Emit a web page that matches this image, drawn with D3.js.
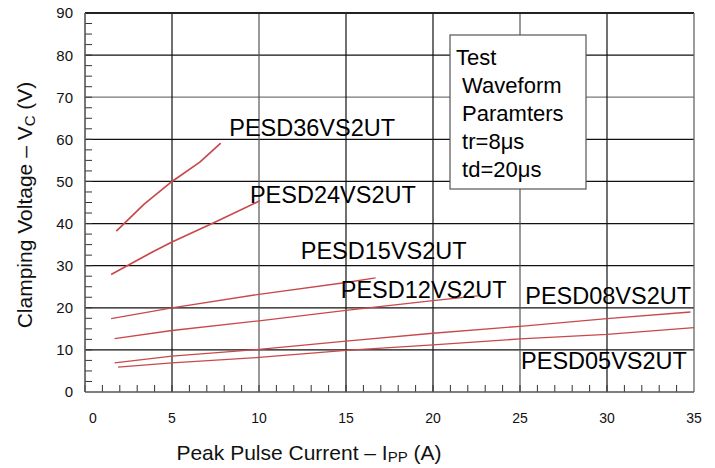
<!DOCTYPE html>
<html>
<head>
<meta charset="utf-8">
<script src="https://cdn.jsdelivr.net/npm/d3@7"></script>
<style>
  body { margin: 0; background: #fff; }
  svg { display: block; font-family: "Liberation Sans", Arial, sans-serif; }
</style>
</head>
<body>
<svg id="chart" width="715" height="468"></svg>
<script>
// clamping voltage vs peak pulse current
const currentTicks = [0, 5, 10, 15, 20, 25, 30, 35];
const voltageTicks = [0, 10, 20, 30, 40, 50, 60, 70, 80, 90];

const deviceNames = ["PESD36VS2UT", "PESD24VS2UT", "PESD15VS2UT",
                     "PESD12VS2UT", "PESD08VS2UT", "PESD05VS2UT"];

// [Ipp (A), Vc (V)]
const pesd36 = [[1.8, 38.2], [3.4, 44.6], [5, 50], [6.6, 54.6], [7.8, 59.1]];
const pesd24 = [[1.5, 27.9], [3.9, 33.3], [5, 35.6], [7.4, 40.2], [10.05, 45.4]];
const pesd15 = [[1.5, 17.4], [5, 20], [10, 23.2], [15, 26], [16.7, 27.1]];
const pesd12 = [[1.7, 12.7], [5, 14.6], [10, 16.9], [15, 19.4], [20, 21.7], [22.7, 22.9]];
const pesd08 = [[1.7, 6.9], [5, 8.5], [10, 10.1], [15, 12.1], [20, 13.95], [25, 15.6], [30, 17.4], [34.8, 19]];
const pesd05 = [[1.9, 5.9], [5, 6.9], [10, 8.2], [15, 9.9], [20, 11.2], [25, 12.6], [30, 13.7], [35, 15.3]];

const seriesValues = [pesd36, pesd24, pesd15, pesd12, pesd08, pesd05];

const legendLines = ["Test", " Waveform", " Paramters", " tr=8\u03bcs", " td=20\u03bcs"];

const svg = d3.select("#chart");
const W = 715, H = 468;
const margin = { top: 13, right: 21, bottom: 76, left: 85 };
const iw = W - margin.left - margin.right;
const ih = H - margin.top - margin.bottom;

const x = d3.scaleLinear().domain([0, 35]).range([0, iw]);
const y = d3.scaleLinear().domain([0, 90]).range([ih, 0]);

const g = svg.append("g").attr("transform", `translate(${margin.left},${margin.top})`);

// grid
g.append("g").selectAll("line")
  .data(voltageTicks.filter(v => v > 0 && v < 90))
  .join("line")
  .attr("x1", 0).attr("x2", iw)
  .attr("y1", d => y(d)).attr("y2", d => y(d))
  .attr("stroke", d => d === 70 ? "#777" : "#111")
  .attr("stroke-width", 1.2);

g.append("g").selectAll("line")
  .data(currentTicks.filter(v => v > 0 && v < 35))
  .join("line")
  .attr("y1", 0).attr("y2", ih)
  .attr("x1", d => x(d)).attr("x2", d => x(d))
  .attr("stroke", d => (d === 10 || d === 25) ? "#555" : "#111")
  .attr("stroke-width", 1.2);

// minor ticks, inside the frame
g.append("g").selectAll("line")
  .data(d3.range(0, 35, 1))
  .join("line")
  .attr("x1", d => x(d)).attr("x2", d => x(d))
  .attr("y1", ih).attr("y2", ih - 7)
  .attr("stroke", "#333").attr("stroke-width", 1);

g.append("g").selectAll("line")
  .data(d3.range(2.5, 90, 2.5))
  .join("line")
  .attr("x1", 0).attr("x2", 7)
  .attr("y1", d => y(d)).attr("y2", d => y(d))
  .attr("stroke", "#333").attr("stroke-width", 1);

// frame
g.append("line").attr("x1", 0).attr("x2", iw).attr("y1", 0).attr("y2", 0)
  .attr("stroke", "#222").attr("stroke-width", 2);
g.append("line").attr("x1", iw).attr("x2", iw).attr("y1", 0).attr("y2", ih)
  .attr("stroke", "#666").attr("stroke-width", 1.3);
g.append("line").attr("x1", 0).attr("x2", 0).attr("y1", 0).attr("y2", ih)
  .attr("stroke", "#555").attr("stroke-width", 1.6);
g.append("line").attr("x1", 0).attr("x2", iw).attr("y1", ih).attr("y2", ih)
  .attr("stroke", "#555").attr("stroke-width", 1.6);

// tick labels
g.append("g").selectAll("text")
  .data(voltageTicks)
  .join("text")
  .attr("x", -12).attr("y", d => y(d))
  .attr("dy", "0.36em")
  .attr("text-anchor", "end")
  .attr("font-size", 15)
  .attr("fill", "#111")
  .text(d => d);

g.append("g").selectAll("text")
  .data(currentTicks)
  .join("text")
  .attr("x", d => x(d) + (d === 0 ? 8 : 0))
  .attr("y", ih + 31)
  .attr("text-anchor", "middle")
  .attr("font-size", 14)
  .attr("fill", "#111")
  .text(d => d);

// curves
const line = d3.line().x(d => x(d[0])).y(d => y(d[1]));
g.append("g").selectAll("path")
  .data(seriesValues)
  .join("path")
  .attr("d", line)
  .attr("fill", "none")
  .attr("stroke", "#c8494b")
  .attr("stroke-linejoin", "round")
  .attr("stroke-width", (d, i) => i < 2 ? 1.7 : 1.3);

// curve labels, anchored in data units
const labelAt = [[8.29, 60.9], [9.48, 44.8], [12.4, 31.5], [14.7, 22.4], [25.3, 21.0], [25.06, 5.5]];
g.append("g").selectAll("text")
  .data(deviceNames)
  .join("text")
  .attr("x", (d, i) => x(labelAt[i][0]))
  .attr("y", (d, i) => y(labelAt[i][1]))
  .attr("font-size", 23.5)
  .attr("fill", "#000")
  .text(d => d);

// test waveform box
const box = g.append("g").attr("transform", `translate(${450 - margin.left},${35 - margin.top})`);
box.append("rect")
  .attr("width", 136).attr("height", 154)
  .attr("fill", "#fff").attr("stroke", "#555").attr("stroke-width", 1.2);
box.selectAll("text")
  .data(legendLines)
  .join("text")
  .attr("x", 6)
  .attr("y", (d, i) => 30 + i * 28)
  .attr("font-size", 22)
  .attr("xml:space", "preserve")
  .style("white-space", "pre")
  .attr("fill", "#000")
  .text(d => d);

// axis titles
const yt = svg.append("text")
  .attr("transform", `translate(32,${margin.top + 192}) rotate(-90)`)
  .attr("text-anchor", "middle")
  .attr("font-size", 21)
  .attr("fill", "#111");
yt.append("tspan").text("Clamping Voltage \u2013 V");
yt.append("tspan").attr("font-size", 15).attr("dy", 3).text("C");
yt.append("tspan").attr("dy", -3).text(" (V)");

const xt = svg.append("text")
  .attr("x", 309).attr("y", 460)
  .attr("text-anchor", "middle")
  .attr("font-size", 21)
  .attr("fill", "#111");
xt.append("tspan").text("Peak Pulse Current \u2013 I");
xt.append("tspan").attr("font-size", 15).attr("dy", 2).text("PP");
xt.append("tspan").attr("dy", -2).text(" (A)");
</script>
</body>
</html>
